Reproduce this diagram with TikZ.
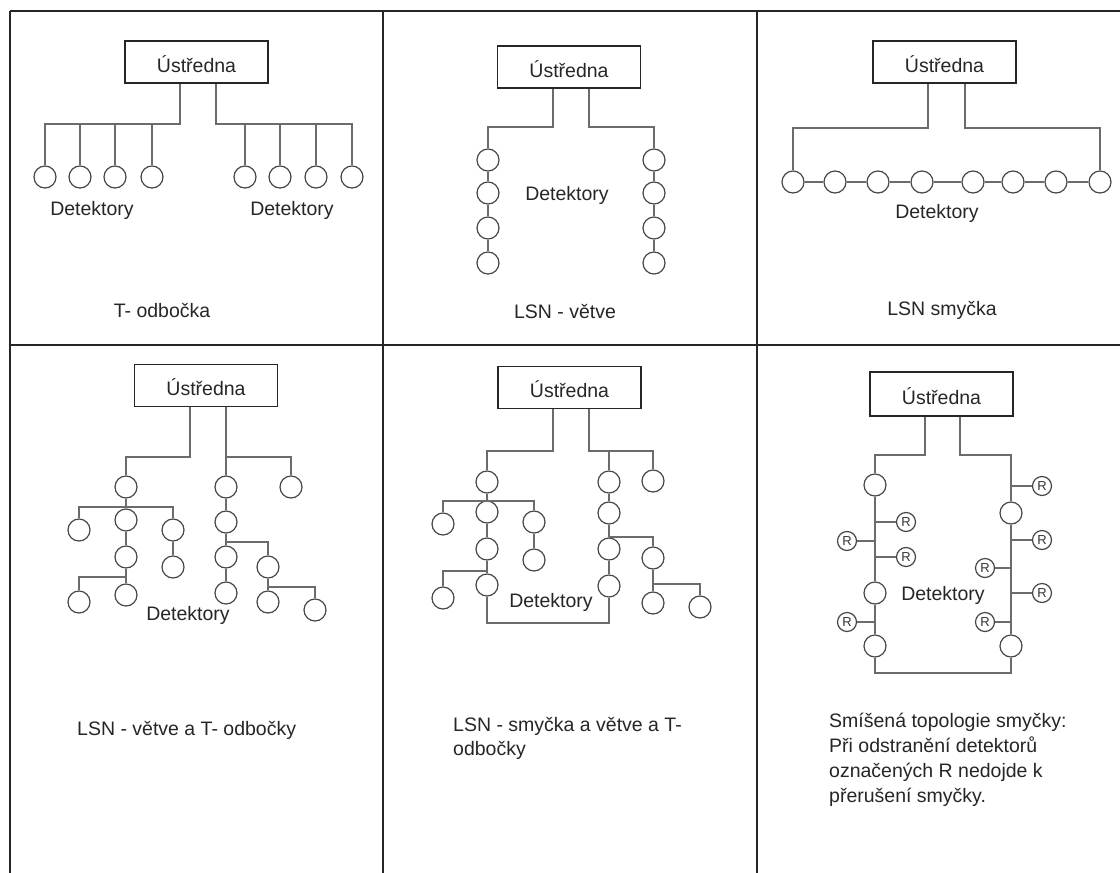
\documentclass[tikz,border=0pt]{standalone}
\usepackage{fontspec}
\setmainfont{Liberation Sans}
\begin{document}
\begin{tikzpicture}[x=1pt,y=-1pt,
  frame/.style={draw=black!85,line width=1.3pt},
  conn/.style={draw=black!58,line width=1.4pt},
  det/.style={circle,draw=black!72,line width=1.2pt,minimum size=22pt,inner sep=0pt},
  rdet/.style={circle,draw=black!72,line width=1.2pt,minimum size=19pt,inner sep=0pt,
    font=\fontsize{13}{13}\selectfont,text=black!80},
  central/.style={rectangle,draw=black!85,line width=1.3pt,minimum width=143pt,minimum height=42pt,
    inner sep=0pt,text height=22pt,text depth=2pt,font=\fontsize{19.5}{24}\selectfont,text=black!85},
  lbl/.style={inner sep=0pt,text height=14pt,text depth=4pt,font=\fontsize{19.5}{24}\selectfont,text=black!85}
]
\useasboundingbox (0,0) rectangle (1120,873);
\fill[white] (0,0) rectangle (1120,873);
% table frame
\coordinate (tl) at (10,11);
\coordinate (tr) at (1120,11);
\coordinate (ml) at (10,345);
\coordinate (mr) at (1120,345);
\coordinate (bl) at (10,873);
\coordinate (v1t) at (383,11);
\coordinate (v1b) at (383,873);
\coordinate (v2t) at (757,11);
\coordinate (v2b) at (757,873);
\draw[frame] (tl) -- (tr);
\draw[frame] (ml) -- (mr);
\draw[frame] (tl) -- (bl);
\draw[frame] (v1t) -- (v1b);
\draw[frame] (v2t) -- (v2b);

% ---------- Panel 1: T- odbocka ----------
\node[central] (u1) at (196.5,62) {Ústředna};
\foreach \n/\x in {a/45,b/80,c/115,d/152,e/245,f/280,g/316,h/352}
  \node[det] (d1\n) at (\x,177) {};
\coordinate (j1l) at (180,124);
\coordinate (j1r) at (216,124);
\draw[conn] (u1.south -| j1l) -- (j1l) -| (d1a.north);
\foreach \n in {b,c,d} \draw[conn] (j1l -| d1\n) -- (d1\n.north);
\draw[conn] (u1.south -| j1r) -- (j1r) -| (d1h.north);
\foreach \n in {e,f,g} \draw[conn] (j1r -| d1\n) -- (d1\n.north);
\node[lbl] (t1a) at (92,210) {Detektory};
\node[lbl] (t1b) at (292,210) {Detektory};
\node[lbl] (t1c) at (162,312) {T- odbočka};

% ---------- Panel 2: LSN - vetve ----------
\node[central] (u2) at (569,67) {Ústředna};
\foreach \n/\y in {a/160,b/193,c/228,d/263} {
  \node[det] (d2\n) at (488,\y) {};
  \node[det] (d2r\n) at (654,\y) {};
}
\coordinate (j2l) at (553,127);
\coordinate (j2r) at (589,127);
\draw[conn] (u2.south -| j2l) -- (j2l) -| (d2a.north);
\draw[conn] (u2.south -| j2r) -- (j2r) -| (d2ra.north);
\draw[conn] (d2a) -- (d2b) -- (d2c) -- (d2d);
\draw[conn] (d2ra) -- (d2rb) -- (d2rc) -- (d2rd);
\node[lbl] (t2a) at (567,195) {Detektory};
\node[lbl] (t2b) at (565,313) {LSN - větve};

% ---------- Panel 3: LSN smycka ----------
\node[central] (u3) at (944.5,62) {Ústředna};
\foreach \n/\x in {a/793,b/835,c/878,d/922,e/973,f/1013,g/1056,h/1100}
  \node[det] (d3\n) at (\x,182) {};
\draw[conn] (d3a) -- (d3b) -- (d3c) -- (d3d) -- (d3e) -- (d3f) -- (d3g) -- (d3h);
\coordinate (j3l) at (928,128);
\coordinate (j3r) at (965,128);
\draw[conn] (u3.south -| j3l) -- (j3l) -| (d3a.north);
\draw[conn] (u3.south -| j3r) -- (j3r) -| (d3h.north);
\node[lbl] (t3a) at (937,213) {Detektory};
\node[lbl] (t3b) at (942,310) {LSN smyčka};

% ---------- Panel 4: LSN - vetve a T- odbocky ----------
\node[central] (u4) at (206,385.5) {Ústředna};
\node[det] (a1) at (126,487) {};
\node[det] (a2) at (126,520) {};
\node[det] (a3) at (126,557) {};
\node[det] (a4) at (126,595) {};
\node[det] (al1) at (79,530) {};
\node[det] (ar1) at (173,530) {};
\node[det] (ar2) at (173,567) {};
\node[det] (al2) at (79,602) {};
\node[det] (b1) at (226,487) {};
\node[det] (b2) at (226,522) {};
\node[det] (b3) at (226,557) {};
\node[det] (b4) at (226,593) {};
\node[det] (bx) at (291,487) {};
\node[det] (br1) at (268,567) {};
\node[det] (br2) at (268,602) {};
\node[det] (br3) at (315,610) {};
\coordinate (j4l) at (190,457);
\coordinate (j4r) at (226,457);
\coordinate (k4a) at (126,507);
\coordinate (k4b) at (126,577);
\coordinate (k4c) at (226,542);
\coordinate (k4d) at (268,587);
\draw[conn] (u4.south -| j4l) -- (j4l) -| (a1.north);
\draw[conn] (a1) -- (a2) -- (a3) -- (a4);
\draw[conn] (al1.north) |- (k4a) -| (ar1.north);
\draw[conn] (ar1) -- (ar2);
\draw[conn] (k4b) -| (al2.north);
\draw[conn] (u4.south -| j4r) -- (j4r) -- (b1.north);
\draw[conn] (j4r) -| (bx.north);
\draw[conn] (b1) -- (b2) -- (b3) -- (b4);
\draw[conn] (k4c) -| (br1.north);
\draw[conn] (br1) -- (br2);
\draw[conn] (k4d) -| (br3.north);
\node[lbl] (t4a) at (188,615) {Detektory};
\node[lbl,anchor=west] (t4b) at (77,730) {LSN - větve a T- odbočky};

% ---------- Panel 5: LSN - smycka a vetve a T- odbocky ----------
\node[central] (u5) at (569.5,387.5) {Ústředna};
\node[det] (c1) at (487,482) {};
\node[det] (c2) at (487,512) {};
\node[det] (c3) at (487,549) {};
\node[det] (c4) at (487,585) {};
\node[det] (cl1) at (443,524) {};
\node[det] (cr1) at (534,522) {};
\node[det] (cr2) at (534,560) {};
\node[det] (cl2) at (443,598) {};
\node[det] (e1) at (609,482) {};
\node[det] (e2) at (609,513) {};
\node[det] (e3) at (609,549) {};
\node[det] (e4) at (609,586) {};
\node[det] (ex) at (653,481) {};
\node[det] (er1) at (653,558) {};
\node[det] (er2) at (653,603) {};
\node[det] (er3) at (700,607) {};
\coordinate (j5l) at (553,451);
\coordinate (j5r) at (589,451);
\coordinate (k5a) at (487,501);
\coordinate (k5b) at (487,571);
\coordinate (k5c) at (609,537);
\coordinate (k5d) at (653,584);
\coordinate (l5) at (487,623);
\draw[conn] (u5.south -| j5l) -- (j5l) -| (c1.north);
\draw[conn] (c1) -- (c2) -- (c3) -- (c4);
\draw[conn] (cl1.north) |- (k5a) -| (cr1.north);
\draw[conn] (cr1) -- (cr2);
\draw[conn] (k5b) -| (cl2.north);
\draw[conn] (u5.south -| j5r) -- (j5r) -| (ex.north);
\draw[conn] (j5r -| e1) -- (e1.north);
\draw[conn] (e1) -- (e2) -- (e3) -- (e4);
\draw[conn] (k5c) -| (er1.north);
\draw[conn] (er1) -- (er2);
\draw[conn] (k5d) -| (er3.north);
\draw[conn] (c4.south) -- (l5) -| (e4.south);
\node[lbl] (t5a) at (551,602) {Detektory};
\node[lbl,anchor=west] (t5b) at (453,726) {LSN - smyčka a větve a T-};
\node[lbl,anchor=west] (t5c) at (453,750) {odbočky};

% ---------- Panel 6: Smisena topologie smycky ----------
\node[central,minimum height=44pt] (u6) at (941.5,394) {Ústředna};
\node[det] (g1) at (875,485) {};
\node[det] (g2) at (875,593) {};
\node[det] (g3) at (875,646) {};
\node[det] (h1) at (1011,513) {};
\node[det] (h2) at (1011,646) {};
\node[rdet] (r1) at (906,522) {R};
\node[rdet] (r2) at (847,541) {R};
\node[rdet] (r3) at (906,557) {R};
\node[rdet] (r4) at (847,622) {R};
\node[rdet] (r5) at (1042,486) {R};
\node[rdet] (r6) at (1042,540) {R};
\node[rdet] (r7) at (985,568) {R};
\node[rdet] (r8) at (1042,593) {R};
\node[rdet] (r9) at (985,622) {R};
\coordinate (j6l) at (925,455);
\coordinate (j6r) at (960,455);
\coordinate (l6) at (875,673);
\draw[conn] (u6.south -| j6l) -- (j6l) -| (g1.north);
\draw[conn] (g1) -- (g2) -- (g3);
\foreach \r in {r1,r2,r3,r4} \draw[conn] (g1 |- \r) -- (\r);
\draw[conn] (u6.south -| j6r) -- (j6r) -| (h1.north);
\draw[conn] (h1) -- (h2);
\foreach \r in {r5,r6,r7,r8,r9} \draw[conn] (h1 |- \r) -- (\r);
\draw[conn] (g3.south) -- (l6) -| (h2.south);
\node[lbl] (t6a) at (943,595) {Detektory};
\node[lbl,anchor=west] (t6b) at (829,722) {Smíšená topologie smyčky:};
\node[lbl,anchor=west] (t6c) at (829,747) {Při odstranění detektorů};
\node[lbl,anchor=west] (t6d) at (829,772) {označených R nedojde k};
\node[lbl,anchor=west] (t6e) at (829,797) {přerušení smyčky.};
\end{tikzpicture}
\end{document}
